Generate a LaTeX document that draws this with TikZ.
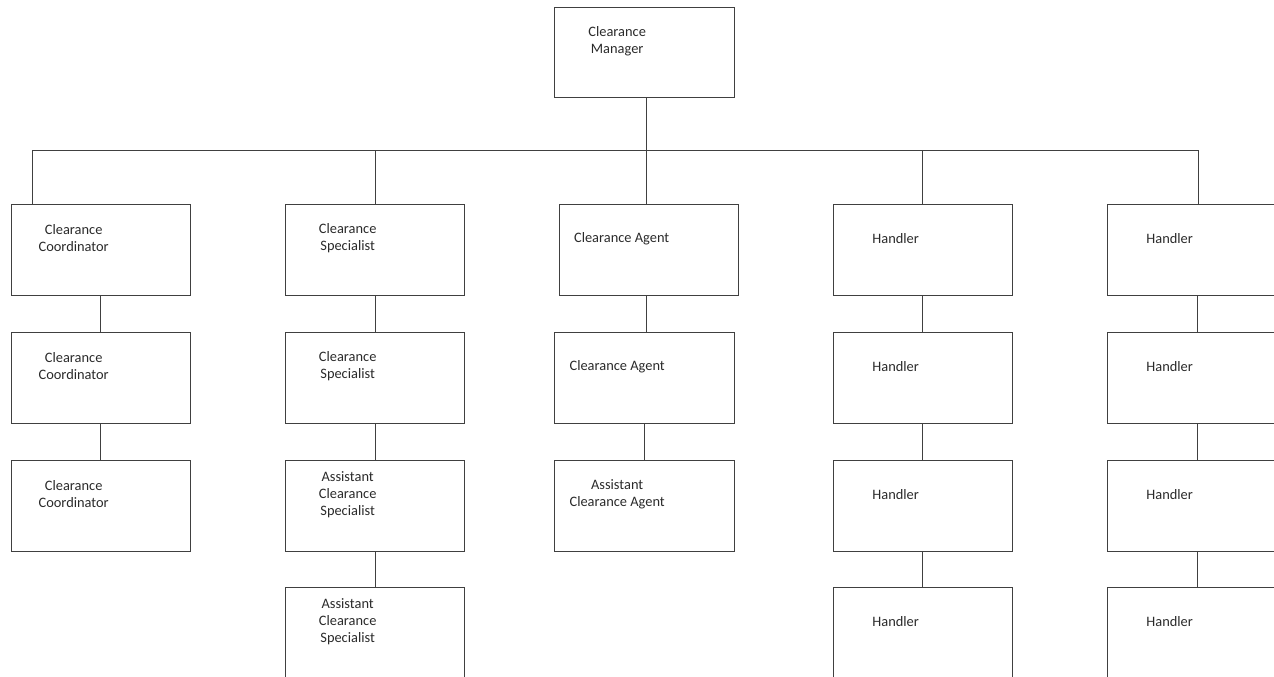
\documentclass[tikz,border=0pt]{standalone}
\usepackage{fontspec}
\setmainfont{Carlito}
\definecolor{linec}{HTML}{404040}
\definecolor{txtc}{HTML}{2A2A2A}
\tikzset{
  box/.style={draw=linec, line width=0.75pt, minimum width=134.25pt, minimum height=68.25pt, inner sep=0pt, outer sep=0pt},
  wide/.style={minimum width=135pt},
  lbl/.style={font=\fontsize{10.8}{12.75}\selectfont, align=center, text=txtc, xshift=-20.5pt, yshift=8.65pt, inner sep=0pt},
  conn/.style={draw=linec, line width=0.75pt}
}
\newcommand\orgbox[4][]{\node[box,#1,label={[lbl]center:{#4}}] (#2) at #3 {};}
\begin{document}
\begin{tikzpicture}[x=0.75pt,y=-0.75pt]
\useasboundingbox (0,0) rectangle (1274,677);
\clip (0,0) rectangle (1274,677);
% top
\orgbox[wide,minimum height=67.5pt]{mgr}{(644.5,52.5)}{Clearance\\Manager}
% row 1
\orgbox{a1}{(101,250)}{Clearance\\Coordinator}
\orgbox{b1}{(375,250)}{Clearance\\Specialist}
\orgbox{c1}{(649,250)}{Clearance Agent}
\orgbox{d1}{(923,250)}{Handler}
\orgbox{e1}{(1197,250)}{Handler}
% row 2
\orgbox{a2}{(101,378)}{Clearance\\Coordinator}
\orgbox{b2}{(375,378)}{Clearance\\Specialist}
\orgbox[wide]{c2}{(644.5,378)}{Clearance Agent}
\orgbox{d2}{(923,378)}{Handler}
\orgbox{e2}{(1197,378)}{Handler}
% row 3
\orgbox{a3}{(101,506)}{Clearance\\Coordinator}
\orgbox{b3}{(375,506)}{Assistant\\Clearance\\Specialist}
\orgbox[wide]{c3}{(644.5,506)}{Assistant\\Clearance Agent}
\orgbox{d3}{(923,506)}{Handler}
\orgbox{e3}{(1197,506)}{Handler}
% row 4
\orgbox{b4}{(375,633)}{Assistant\\Clearance\\Specialist}
\orgbox{d4}{(923,633)}{Handler}
\orgbox{e4}{(1197,633)}{Handler}
% connector columns
\coordinate (busL) at (32.5,150.5);
\coordinate (busR) at (1198.5,150.5);
\coordinate (ax) at (100.5,0);
\coordinate (bx) at (375.5,0);
\coordinate (cx) at (646.5,0);
\coordinate (cy) at (644.5,0);
\coordinate (dx) at (922.5,0);
\coordinate (ex) at (1197.5,0);
% bus
\draw[conn] (a1.north -| busL) -- (busL) -- (busR) -- (e1.north -| busR);
\draw[conn] (mgr.south -| cx) -- (c1.north -| cx);
\draw[conn] (b1.north -| bx) -- (busL -| bx);
\draw[conn] (d1.north -| dx) -- (busL -| dx);
% chains
\draw[conn] (a1.south -| ax) -- (a2.north -| ax);
\draw[conn] (a2.south -| ax) -- (a3.north -| ax);
\draw[conn] (b1.south -| bx) -- (b2.north -| bx);
\draw[conn] (b2.south -| bx) -- (b3.north -| bx);
\draw[conn] (b3.south -| bx) -- (b4.north -| bx);
\draw[conn] (c1.south -| cx) -- (c2.north -| cx);
\draw[conn] (c2.south -| cy) -- (c3.north -| cy);
\draw[conn] (d1.south -| dx) -- (d2.north -| dx);
\draw[conn] (d2.south -| dx) -- (d3.north -| dx);
\draw[conn] (d3.south -| dx) -- (d4.north -| dx);
\draw[conn] (e1.south -| ex) -- (e2.north -| ex);
\draw[conn] (e2.south -| ex) -- (e3.north -| ex);
\draw[conn] (e3.south -| ex) -- (e4.north -| ex);
\end{tikzpicture}
\end{document}
